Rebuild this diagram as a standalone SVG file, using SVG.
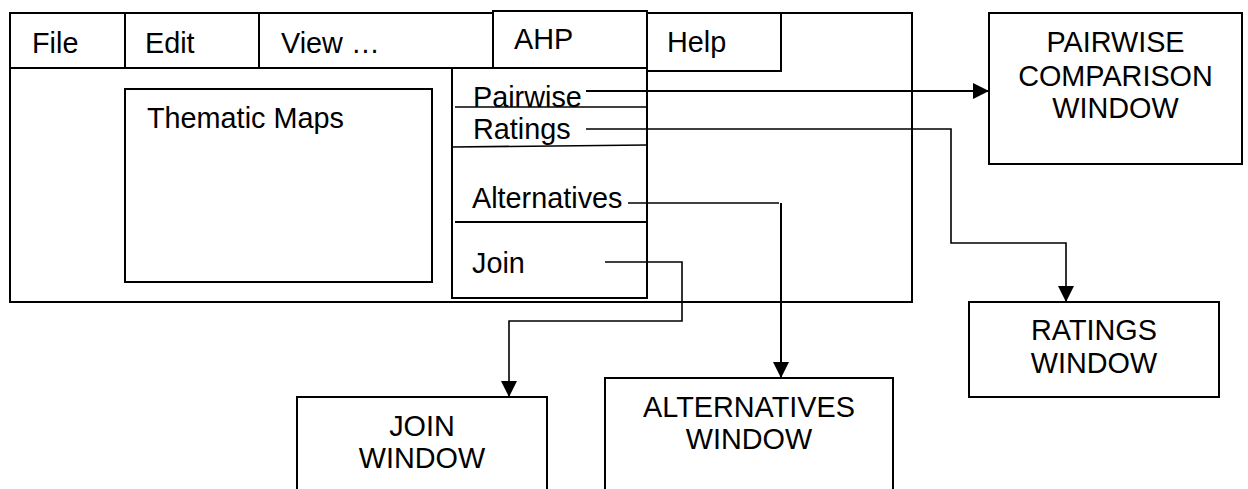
<svg xmlns="http://www.w3.org/2000/svg" width="1248" height="489" viewBox="0 0 1248 489">
<defs>
<style>
.box{fill:#fff;stroke:#000;stroke-width:2}
.ln{fill:none;stroke:#000;stroke-width:2}
.thin{fill:none;stroke:#000;stroke-width:1.6}
text{font-family:"Liberation Sans",Arial,sans-serif;font-size:28.8px;fill:#000}
.c{text-anchor:middle}
</style>
<marker id="arr" markerUnits="userSpaceOnUse" markerWidth="16" markerHeight="16" viewBox="0 0 15 15" refX="15" refY="7.5" orient="auto">
<path d="M0,0 L15,7.5 L0,15 z" fill="#000"/>
</marker>
</defs>
<rect width="1248" height="489" fill="#fff"/>
<g id="main-window">
<rect class="box" x="10" y="13" width="902" height="289"/>
<line class="ln" x1="10" y1="68" x2="493" y2="68"/>
<line class="ln" x1="125" y1="13" x2="125" y2="68"/>
<line class="ln" x1="259" y1="13" x2="259" y2="68"/>
<text x="32" y="53">File</text>
<text x="145" y="53">Edit</text>
<text x="281" y="53">View …</text>
</g>
<g id="menu-ahp">
<rect class="box" x="493" y="11" width="154" height="57"/>
<text x="514" y="49">AHP</text>
</g>
<g id="menu-help">
<rect class="box" x="647" y="13" width="134" height="58"/>
<text x="667" y="52">Help</text>
</g>
<g id="thematic-maps">
<rect class="box" x="125" y="89" width="307" height="193"/>
<text x="147" y="128">Thematic Maps</text>
</g>
<g id="dropdown">
<rect class="box" x="452" y="68" width="195" height="230"/>
<line class="thin" x1="455" y1="107" x2="647" y2="107"/>
<line class="thin" x1="452" y1="147" x2="647" y2="145"/>
<line class="ln" x1="455" y1="222" x2="647" y2="222"/>
<text x="473" y="107">Pairwise</text>
<text x="473" y="139">Ratings</text>
<text x="472" y="208">Alternatives</text>
<text x="472" y="273">Join</text>
</g>
<g id="pairwise-window">
<rect class="box" x="989" y="13" width="253" height="151"/>
<text class="c" x="1115.5" y="52">PAIRWISE</text>
<text class="c" x="1115.5" y="86">COMPARISON</text>
<text class="c" x="1115.5" y="118">WINDOW</text>
</g>
<g id="ratings-window">
<rect class="box" x="969" y="302" width="250" height="95"/>
<text class="c" x="1094" y="340">RATINGS</text>
<text class="c" x="1094" y="373">WINDOW</text>
</g>
<g id="alternatives-window">
<rect class="box" x="605" y="378" width="288" height="120"/>
<text class="c" x="749" y="417">ALTERNATIVES</text>
<text class="c" x="749" y="449">WINDOW</text>
</g>
<g id="join-window">
<rect class="box" x="297" y="397" width="250" height="100"/>
<text class="c" x="422" y="436">JOIN</text>
<text class="c" x="422" y="468">WINDOW</text>
</g>
<g id="connectors">
<path class="ln" d="M586,91 H989" marker-end="url(#arr)"/>
<path class="thin" d="M586,129 H951 V243 H1066 V302" marker-end="url(#arr)"/>
<path class="thin" d="M628,203 H779"/>
<path class="ln" d="M781,203 V378" marker-end="url(#arr)"/>
<path class="thin" d="M605,262 H682 V321 H509 V397" marker-end="url(#arr)"/>
</g>
</svg>
